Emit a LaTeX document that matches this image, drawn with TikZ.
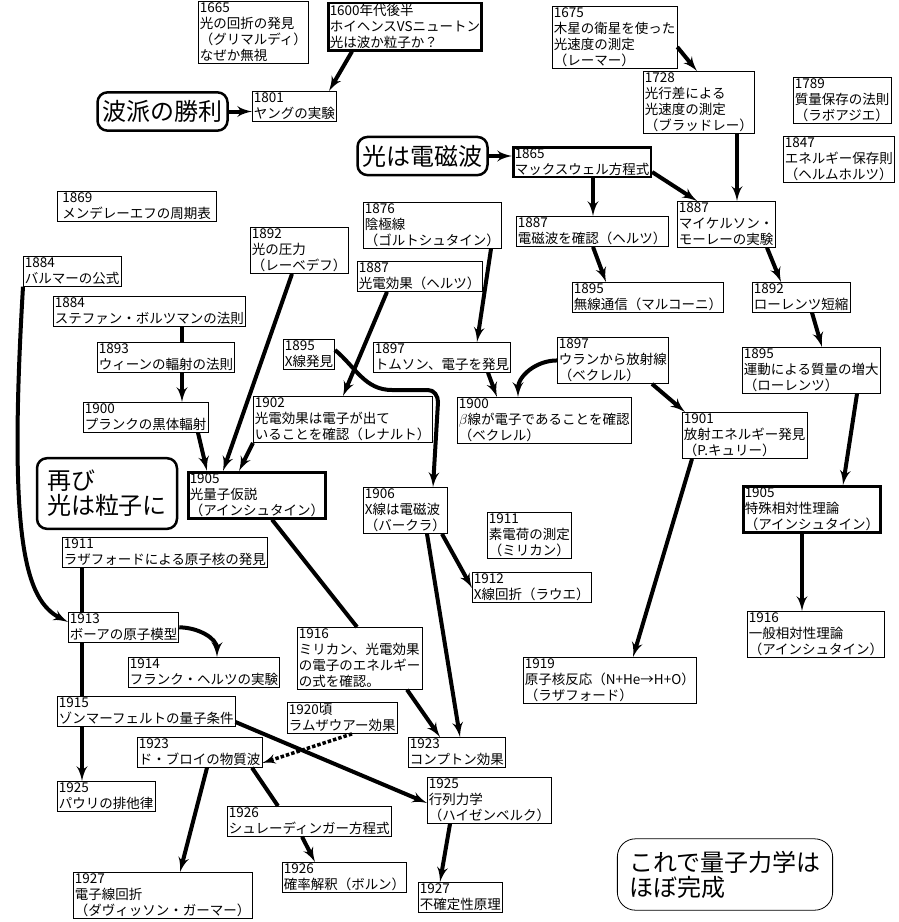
\documentclass[tikz,border=0pt]{standalone}
\usepackage{fontspec}
\setmainfont{Noto Sans CJK JP}
\usetikzlibrary{arrows,positioning}

\begin{document}
\begin{tikzpicture}[
    x=1pt, y=-1pt,
    every node/.style={font=\fontsize{13.5}{16}\selectfont},
    event/.style={
        rectangle,
        draw,
        line width=0.8pt,
        anchor=north west,
        align=left,
        inner sep=1.5pt
    },
    keyevent/.style={
        event,
        line width=2.5pt
    },
    headline/.style={
        rectangle,
        draw,
        rounded corners=10pt,
        line width=2.5pt,
        align=left,
        font=\fontsize{24}{25}\selectfont,
        inner xsep=5pt,
        inner ysep=8pt
    },
    line/.style={
        draw, -latex', line width=4pt
    },
    link/.style={
        draw, line width=4pt
    },
    dottedline/.style={
        draw, -latex', dotted, line width=3.5pt
    }
]
    \useasboundingbox (0,0) rectangle (898,922);

    % Headlines
    \node [headline] (wave) at (162.5,111.5) {波派の勝利};
    \node [headline] (em) at (422.5,156) {光は電磁波};
    \node [headline, inner xsep=10pt, inner ysep=12pt] (again) at (107,493.5) {再び\\光は粒子に};
    \node [headline, line width=0.8pt, rounded corners=18pt, inner sep=12pt] (done) at (725,874.5) {これで量子力学は\\ほぼ完成};

    % Nodes
    \node [event] (n1665) at (198,1) {1665\\光の回折の発見\\（グリマルディ）\\なぜか無視};
    \node [keyevent] (n1600) at (327,1.5) {1600年代後半\\ホイヘンスVSニュートン\\光は波か粒子か？};
    \node [event] (n1801) at (252,91) {1801\\ヤングの実験};
    \node [keyevent] (n1865) at (512,146) {1865\\マックスウェル方程式};
    \node [event] (n1675) at (552,6) {1675\\木星の衛星を使った\\光速度の測定\\（レーマー）};
    \node [event] (n1728) at (643,71) {1728\\光行差による\\光速度の測定\\（ブラッドレー）};
    \node [event] (n1789) at (793,77) {1789\\質量保存の法則\\（ラボアジエ）};
    \node [event] (n1847) at (783,136) {1847\\エネルギー保存則\\（ヘルムホルツ）};
    \node [event, inner xsep=5pt] (n1869) at (57,191) {1869\\メンデレーエフの周期表};
    \node [event] (n1887mm) at (677,201) {1887\\マイケルソン・\\モーレーの実験};
    \node [event] (n1887em) at (516,216) {1887\\電磁波を確認（ヘルツ）};
    \node [event] (n1876) at (363,202) {1876\\陰極線\\（ゴルトシュタイン）};
    \node [event] (n1892p) at (250,227) {1892\\光の圧力\\（レーベデフ）};
    \node [event] (n1887pe) at (357,261) {1887\\光電効果（ヘルツ）};
    \node [event] (n1884b) at (23,256) {1884\\バルマーの公式};
    \node [event] (n1884s) at (53,296) {1884\\ステファン・ボルツマンの法則};
    \node [event] (n1895r) at (572,282) {1895\\無線通信（マルコーニ）};
    \node [event] (n1892l) at (752,282) {1892\\ローレンツ短縮};
    \node [event] (n1895x) at (283,339) {1895\\X線発見};
    \node [event] (n1897t) at (373,342) {1897\\トムソン、電子を発見};
    \node [event] (n1893) at (97,342) {1893\\ウィーンの輻射の法則};
    \node [event] (n1897u) at (557,337) {1897\\ウランから放射線\\（ベクレル）};
    \node [event] (n1895m) at (742,347) {1895\\運動による質量の増大\\（ローレンツ）};
    \node [event] (n1900p) at (83,402) {1900\\プランクの黒体輻射};
    \node [event] (n1902) at (253,396) {1902\\光電効果は電子が出て\\いることを確認（レナルト）};
    \node [event] (n1900b) at (457,397) {1900\\$\beta$線が電子であることを確認\\（ベクレル）};
    \node [event] (n1901) at (682,412) {1901\\放射エネルギー発見\\（P.キュリー）};
    \node [keyevent] (n1905) at (187,471) {1905\\光量子仮説\\（アインシュタイン）};
    \node [event] (n1906) at (363,487) {1906\\X線は電磁波\\（バークラ）};
    \node [keyevent] (n1905sr) at (742,485) {1905\\特殊相対性理論\\（アインシュタイン）};
    \node [event] (n1911e) at (487,512) {1911\\素電荷の測定\\（ミリカン）};
    \node [event] (n1911r) at (62,537) {1911\\ラザフォードによる原子核の発見};
    \node [event] (n1912) at (472,572) {1912\\X線回折（ラウエ）};
    \node [event] (n1913) at (68,612) {1913\\ボーアの原子模型};
    \node [event] (n1916gr) at (747,611) {1916\\一般相対性理論\\（アインシュタイン）};
    \node [event] (n1916m) at (297,627) {1916\\ミリカン、光電効果\\の電子のエネルギー\\の式を確認。};
    \node [event] (n1914) at (128,657) {1914\\フランク・ヘルツの実験};
    \node [event] (n1919) at (523,657) {1919\\原子核反応（N+He→H+O）\\（ラザフォード）};
    \node [event] (n1915) at (57,696) {1915\\ゾンマーフェルトの量子条件};
    \node [event] (n1920) at (287,702) {1920頃\\ラムザウアー効果};
    \node [event] (n1923d) at (137,737) {1923\\ド・ブロイの物質波};
    \node [event] (n1923c) at (408,737) {1923\\コンプトン効果};
    \node [event] (n1925p) at (57,781) {1925\\パウリの排他律};
    \node [event] (n1925h) at (427,777) {1925\\行列力学\\（ハイゼンベルク）};
    \node [event] (n1926s) at (227,806) {1926\\シュレーディンガー方程式};
    \node [event] (n1926b) at (282,862) {1926\\確率解釈（ボルン）};
    \node [event] (n1927e) at (73,872) {1927\\電子線回折\\（ダヴィッソン・ガーマー）};
    \node [event] (n1927u) at (418,882) {1927\\不確定性原理};

    % Edges
    \path [line] (352,0 |- n1600.south) -- (329,0 |- n1801.north);
    \path [line] (wave.east) -- (wave.east -| n1801.west);
    \path [line] (em.east) -- (em.east -| n1865.west);
    \path [line] (n1675.east |- 0,47) -- (697,0 |- n1728.north);
    \path [line] (737,0 |- n1728.south) -- (737,0 |- n1887mm.north);
    \path [line] (n1865.east |- 0,172) -- (697,0 |- n1887mm.north);
    \path [line] (593,0 |- n1865.south) -- (593,0 |- n1887em.north);
    \path [line] (593,0 |- n1887em.south) -- (606,0 |- n1895r.north);
    \path [line] (767,0 |- n1887mm.south) -- (781,0 |- n1892l.north);
    \path [line] (812,0 |- n1892l.south) -- (822,0 |- n1895m.north);
    \path [line] (857,0 |- n1895m.south) -- (843,0 |- n1905sr.north);
    \path [line] (802,0 |- n1905sr.south) -- (802,0 |- n1916gr.north);

    \path [line] (491,0 |- n1876.south) -- (477,0 |- n1897t.north);
    \path [line] (387,0 |- n1887pe.south) -- (343,0 |- n1902.north);
    \path [line] (488,0 |- n1897t.south) -- (497,0 |- n1900b.north);
    \path [line] (n1897u.west) to[out=180,in=90] (518,0 |- n1900b.north);
    \path [line] (652,0 |- n1897u.south) -- (685,0 |- n1901.north);
    \path [line] (692,0 |- n1901.south) -- (633,0 |- n1919.north);
    \path [line] (n1895x.east |- 0,350) to[out=-40,in=180] (392,390) -- (428,390)
        to[out=0,in=90] (438,402) -- (433,0 |- n1906.north);

    \path [link] (182,0 |- n1884s.south) -- (182,0 |- n1893.north);
    \path [line] (182,0 |- n1893.south) -- (182,0 |- n1900p.north);
    \path [line] (198,0 |- n1900p.south) -- (207,0 |- n1905.north);
    \path [line] (292,0 |- n1892p.south) -- (223,0 |- n1905.north);
    \path [line] (n1902.south west) -- (239,0 |- n1905.north);
    \path [link] (272,0 |- n1905.south) -- (357,0 |- n1916m.north);
    \path [line] (407,0 |- n1916m.south) -- (440,0 |- n1923c.north);
    \path [line] (427,0 |- n1906.south) -- (460,0 |- n1923c.north);
    \path [line] (442,0 |- n1906.south) -- (n1912.west |- 0,588);

    \path [line] (n1884b.south west) .. controls (8,540) and (25,600) .. (n1913.west |- 0,622);
    \path [link] (82,0 |- n1911r.south) -- (82,0 |- n1913.north);
    \path [line] (n1913.east) to[out=0,in=90] (217,0 |- n1914.north);
    \path [link] (82,0 |- n1913.south) -- (82,0 |- n1915.north);
    \path [line] (82,0 |- n1915.south) -- (82,0 |- n1925p.north);
    \path [line] (n1915.east |- 0,722) -- (n1925h.west |- 0,803);
    \path [dottedline] (352,0 |- n1920.south) -- (n1923d.east |- 0,763);
    \path [line] (207,0 |- n1923d.south) -- (180,0 |- n1927e.north);
    \path [link] (252,0 |- n1923d.south) -- (278,0 |- n1926s.north);
    \path [line] (302,0 |- n1926s.south) -- (315,0 |- n1926b.north);
    \path [line] (450,0 |- n1925h.south) -- (440,0 |- n1927u.north);

\end{tikzpicture}
\end{document}
